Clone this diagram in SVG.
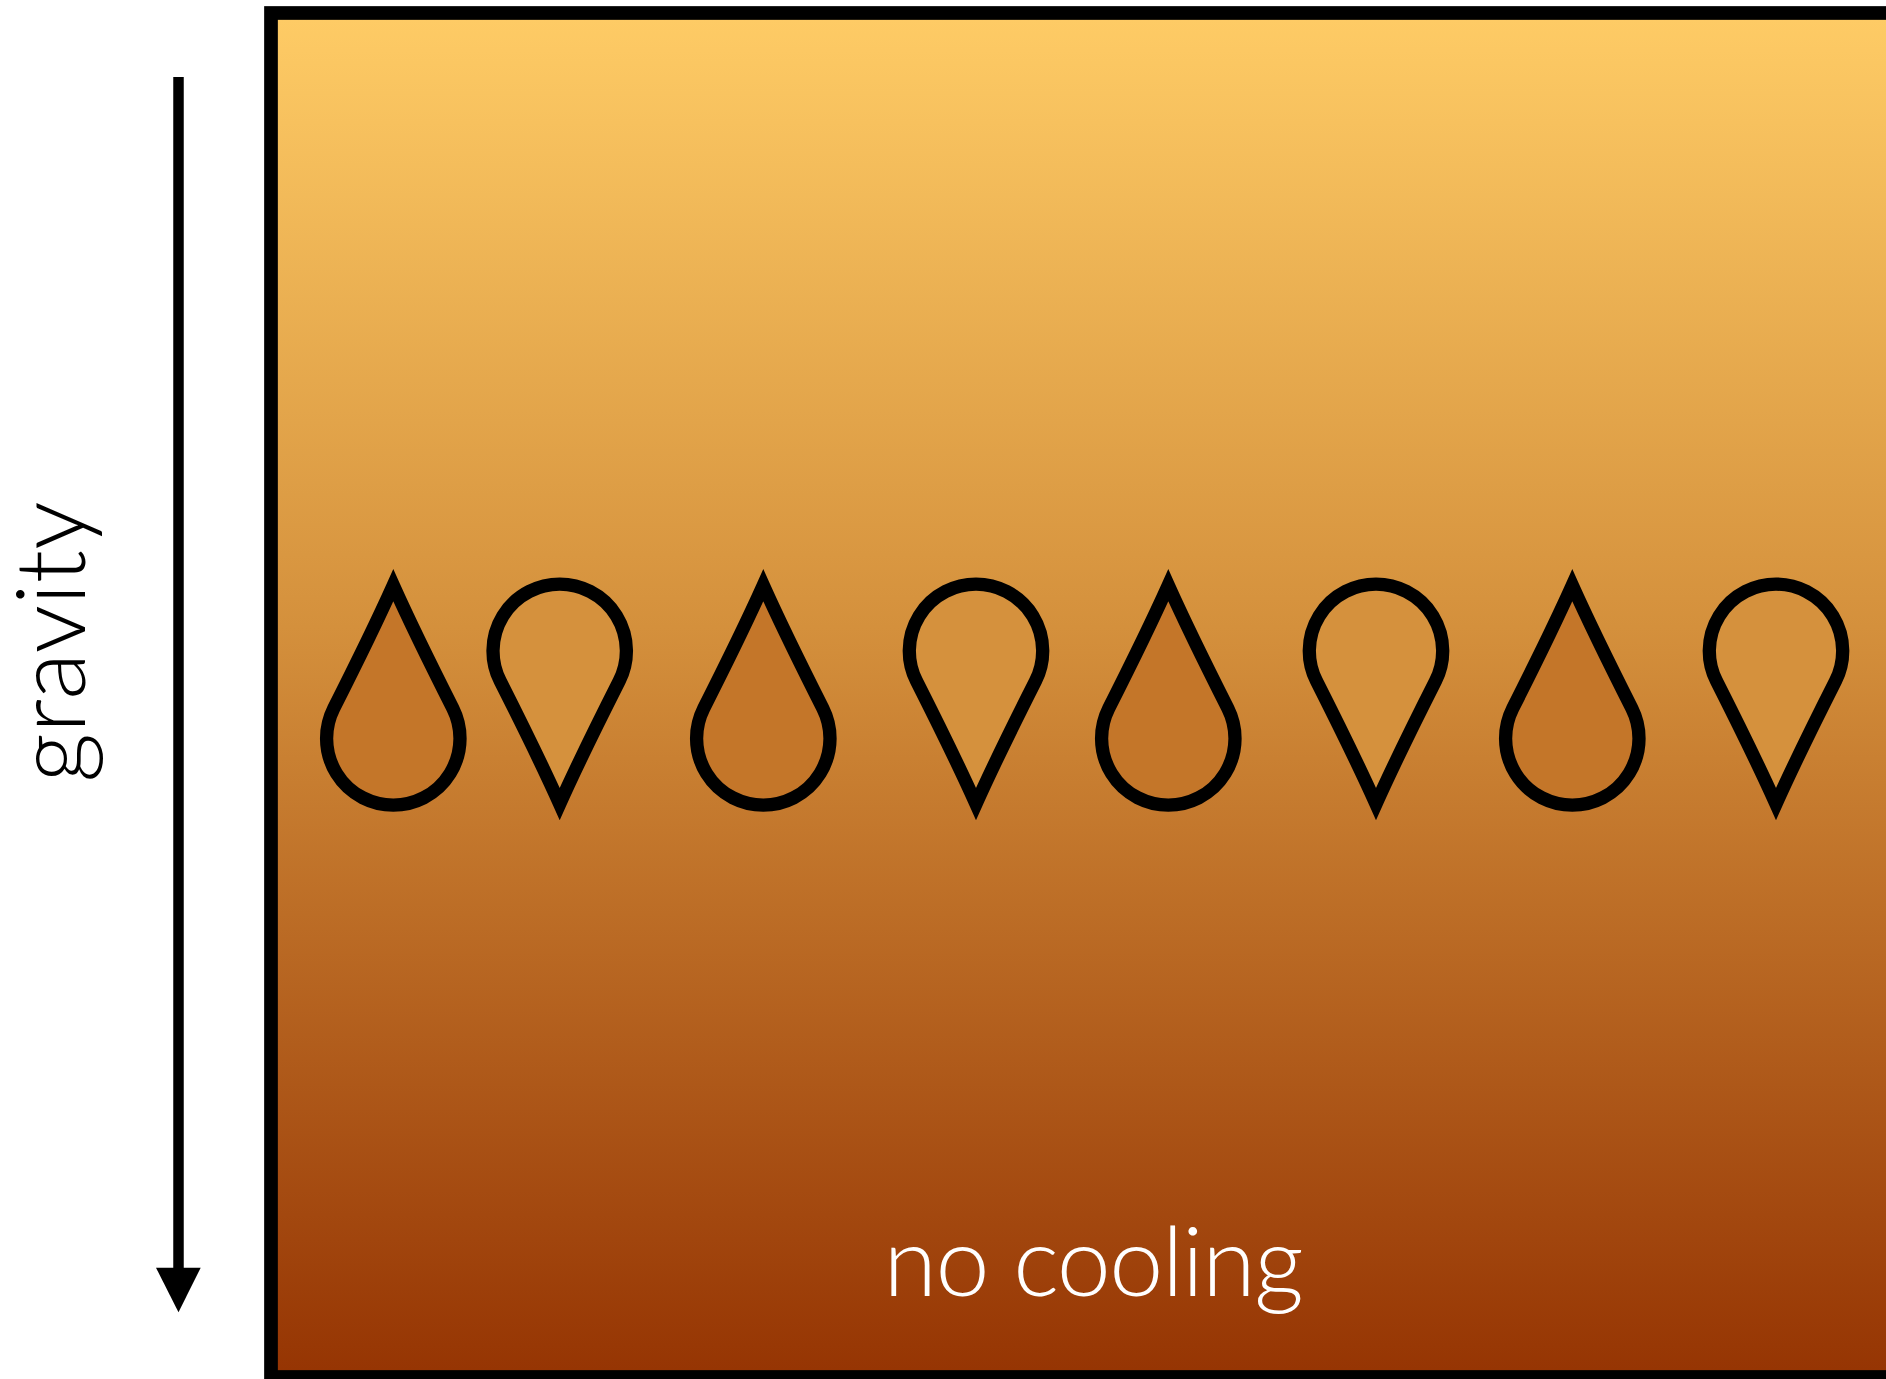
<svg xmlns="http://www.w3.org/2000/svg" width="1886" height="1379" viewBox="0 0 1886 1379">
  <style>
    .lbl { font-family: Lato, "Open Sans", "Liberation Sans", sans-serif; font-weight: 300; font-size: 97px; }
    .drop { stroke: #000; stroke-width: 13.3; stroke-linejoin: miter; stroke-miterlimit: 10; }
    .up { fill: #C47629; }
    .down { fill: #D5913D; }
  </style>
  <defs>
    <linearGradient id="bg" x1="0" y1="20" x2="0" y2="1370" gradientUnits="userSpaceOnUse">
      <stop offset="0" stop-color="#FECB65"/>
      <stop offset="0.45" stop-color="#D4903C"/>
      <stop offset="1" stop-color="#963503"/>
    </linearGradient>
    <path id="dropUp" d="M 0,-153 C 13,-124 46,-56.7 59.5,-30 A 66.7 66.7 0 1 1 -59.5,-30 C -46,-56.7 -13,-124 0,-153 Z"/>
    <path id="dropDown" d="M 0,153 C 13,124 46,56.7 59.5,30 A 66.7 66.7 0 1 0 -59.5,30 C -46,56.7 -13,124 0,153 Z"/>
  </defs>

  <rect x="0" y="0" width="1886" height="1379" fill="#FFFFFF"/>

  <g id="container">
    <rect x="271" y="13" width="1640" height="1364" fill="url(#bg)" stroke="#000" stroke-width="13.7"/>
    <text class="lbl" x="1093" y="1296" text-anchor="middle" fill="#FFFFFF" letter-spacing="-1.4">no cooling</text>
  </g>

  <g id="drop1"><use href="#dropUp" class="drop up" x="393.3" y="738.3"/></g>
  <g id="drop2"><use href="#dropDown" class="drop down" x="559.7" y="651"/></g>
  <g id="drop3"><use href="#dropUp" class="drop up" x="763.3" y="738.3"/></g>
  <g id="drop4"><use href="#dropDown" class="drop down" x="976" y="651"/></g>
  <g id="drop5"><use href="#dropUp" class="drop up" x="1168.3" y="738.3"/></g>
  <g id="drop6"><use href="#dropDown" class="drop down" x="1376" y="651"/></g>
  <g id="drop7"><use href="#dropUp" class="drop up" x="1572.3" y="738.3"/></g>
  <g id="drop8"><use href="#dropDown" class="drop down" x="1776" y="651"/></g>

  <g id="connectors">
    <line x1="178.5" y1="77" x2="178.5" y2="1270" stroke="#000" stroke-width="10.5"/>
    <polygon points="156,1267.7 200.7,1267.7 178.5,1312.3" fill="#000"/>
  </g>

  <g id="gravity-label">
    <text class="lbl" transform="translate(85,642) rotate(-90)" x="0" y="0" text-anchor="middle" fill="#000">gravity</text>
  </g>
</svg>
